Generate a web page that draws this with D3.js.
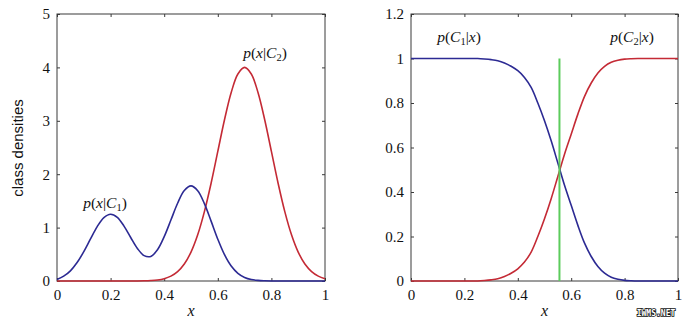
<!DOCTYPE html>
<html>
<head>
<meta charset="utf-8">
<script src="https://cdn.jsdelivr.net/npm/d3@7"></script>
<style>
  html, body { margin: 0; padding: 0; background: #fff; }
  svg { display: block; }
</style>
</head>
<body>
<svg id="chart" width="690" height="325"></svg>
<script>
// Sample positions along x
const xGrid = [0, 0.025, 0.05, 0.075, 0.1, 0.125, 0.15, 0.175, 0.2, 0.225,
  0.25, 0.275, 0.3, 0.325, 0.35, 0.375, 0.4, 0.425, 0.45, 0.475,
  0.5, 0.525, 0.55, 0.575, 0.6, 0.625, 0.65, 0.675, 0.7, 0.725,
  0.75, 0.775, 0.8, 0.825, 0.85, 0.875, 0.9, 0.925, 0.95, 0.975, 1];

// Class-conditional densities p(x|C1), p(x|C2)
const densityC1 = [0.03, 0.09, 0.19, 0.345, 0.550, 0.787, 1.018, 1.188, 1.251, 1.192,
  1.028, 0.815, 0.610, 0.475, 0.460, 0.585, 0.830, 1.141, 1.456, 1.694,
  1.781, 1.691, 1.449, 1.121, 0.783, 0.493, 0.280, 0.144, 0.067, 0.028,
  0.011, 0.004, 0.001, 0, 0, 0, 0, 0, 0, 0, 0];
const densityC2 = [0, 0, 0, 0, 0, 0, 0, 0, 0, 0,
  0, 0.0005, 0.001, 0.0035, 0.009, 0.020, 0.044, 0.091, 0.176, 0.318,
  0.541, 0.865, 1.299, 1.831, 2.426, 3.019, 3.530, 3.877, 4.0, 3.877,
  3.530, 3.019, 2.426, 1.831, 1.299, 0.865, 0.541, 0.318, 0.176, 0.091, 0.044];

// Posterior probabilities p(C1|x), p(C2|x)
const posteriorC1 = [1, 1, 1, 1, 1, 1, 1, 1, 1, 1,
  1, 0.998, 0.995, 0.99, 0.98, 0.965, 0.945, 0.915, 0.87, 0.80,
  0.72, 0.63, 0.53, 0.43, 0.34, 0.25, 0.17, 0.11, 0.065, 0.035,
  0.017, 0.008, 0.003, 0.001, 0, 0, 0, 0, 0, 0, 0];
const posteriorC2 = [0, 0, 0, 0, 0, 0, 0, 0, 0, 0,
  0, 0.002, 0.005, 0.01, 0.02, 0.035, 0.055, 0.085, 0.13, 0.20,
  0.28, 0.37, 0.47, 0.57, 0.66, 0.75, 0.83, 0.89, 0.935, 0.965,
  0.983, 0.992, 0.997, 0.999, 1, 1, 1, 1, 1, 1, 1];

// Decision boundary where the posteriors cross
const boundaryX = 0.556;

const xTicks = [0, 0.2, 0.4, 0.6, 0.8, 1];
const xTickLabels = ["0", "0.2", "0.4", "0.6", "0.8", "1"];
const leftYTicks = [0, 1, 2, 3, 4, 5];
const leftYTickLabels = ["0", "1", "2", "3", "4", "5"];
const rightYTicks = [0, 0.2, 0.4, 0.6, 0.8, 1, 1.2];
const rightYTickLabels = ["0", "0.2", "0.4", "0.6", "0.8", "1", "1.2"];

const BLUE = "#2c2a93";
const RED = "#c42a35";
const GREEN = "#5ccc5c";
const FRAME = "#3a3a3a";
const SERIF = "'Liberation Serif', 'Times New Roman', 'DejaVu Serif', serif";

const svg = d3.select("#chart");

function panel(opts) {
  const { left, right, top, bottom, yMax, yTicks, yLabels } = opts;
  const x = d3.scaleLinear().domain([0, 1]).range([left, right]);
  const y = d3.scaleLinear().domain([0, yMax]).range([bottom, top]);
  const g = svg.append("g");

  // inward ticks on all four sides, labels on bottom and left
  const axB = d3.axisBottom(x).tickValues(xTicks).tickSizeInner(-3).tickSizeOuter(0)
    .tickPadding(7).tickFormat((d, i) => xTickLabels[i]);
  const axT = d3.axisTop(x).tickValues(xTicks).tickSizeInner(-3).tickSizeOuter(0).tickFormat("");
  const axL = d3.axisLeft(y).tickValues(yTicks).tickSizeInner(-3).tickSizeOuter(0)
    .tickPadding(7).tickFormat((d, i) => yLabels[i]);
  const axR = d3.axisRight(y).tickValues(yTicks).tickSizeInner(-3).tickSizeOuter(0).tickFormat("");

  const gb = g.append("g").attr("transform", `translate(0,${bottom})`).call(axB);
  const gt = g.append("g").attr("transform", `translate(0,${top})`).call(axT);
  const gl = g.append("g").attr("transform", `translate(${left},0)`).call(axL);
  const gr = g.append("g").attr("transform", `translate(${right},0)`).call(axR);
  [gb, gt, gl, gr].forEach(a => {
    a.attr("font-family", SERIF).attr("font-size", 15);
    a.select(".domain").remove();
    a.selectAll(".tick line").attr("stroke", FRAME);
    a.selectAll(".tick text").attr("fill", "#111");
  });
  gb.selectAll(".tick text").attr("dy", "0.8em");
  gl.selectAll(".tick text").attr("dy", "0.33em");

  g.append("rect")
    .attr("x", left).attr("y", top)
    .attr("width", right - left).attr("height", bottom - top)
    .attr("fill", "none").attr("stroke", FRAME).attr("stroke-width", 1);

  // x axis label
  g.append("text")
    .attr("x", (left + right) / 2).attr("y", 316)
    .attr("text-anchor", "middle")
    .attr("font-family", SERIF).attr("font-style", "italic").attr("font-size", 16)
    .attr("fill", "#111")
    .text("x");

  return { g, x, y };
}

function curve(p, values, color) {
  const line = d3.line()
    .x((d, i) => p.x(xGrid[i]))
    .y(d => p.y(d))
    .curve(d3.curveCatmullRom.alpha(0.5));
  p.g.append("path")
    .datum(values)
    .attr("d", line)
    .attr("fill", "none")
    .attr("stroke", color)
    .attr("stroke-width", 1.6);
}

// math label like p(x|C1) built from tspans
function mathLabel(g, cx, baseline, parts) {
  const t = g.append("text")
    .attr("x", cx).attr("y", baseline).attr("text-anchor", "middle")
    .attr("font-family", SERIF).attr("font-size", 15.5).attr("fill", "#111");
  parts.forEach(pt => {
    const s = t.append("tspan").text(pt.t);
    if (pt.i) s.attr("font-style", "italic");
    if (pt.sub) s.attr("font-size", 10.5).attr("dy", 3);
    if (pt.up) s.attr("dy", -3);
  });
}

// Left: class-conditional densities
const L = panel({ left: 57, right: 325, top: 14, bottom: 281, yMax: 5,
  yTicks: leftYTicks, yLabels: leftYTickLabels });
curve(L, densityC2, RED);
curve(L, densityC1, BLUE);

L.g.append("text")
  .attr("transform", "translate(23,148) rotate(-90)")
  .attr("text-anchor", "middle")
  .attr("font-family", "'Liberation Sans', Arial, sans-serif")
  .attr("font-size", 15)
  .attr("fill", "#111")
  .text("class densities");

mathLabel(L.g, 105, 208, [
  { t: "p", i: true }, { t: "(" }, { t: "x", i: true }, { t: "|" },
  { t: "C", i: true }, { t: "1", sub: true }, { t: ")", up: true }
]);
mathLabel(L.g, 265, 58, [
  { t: "p", i: true }, { t: "(" }, { t: "x", i: true }, { t: "|" },
  { t: "C", i: true }, { t: "2", sub: true }, { t: ")", up: true }
]);

// Right: posterior probabilities with the decision boundary
const R = panel({ left: 411, right: 678, top: 14, bottom: 281, yMax: 1.2,
  yTicks: rightYTicks, yLabels: rightYTickLabels });
curve(R, posteriorC2, RED);
curve(R, posteriorC1, BLUE);

R.g.append("line")
  .attr("x1", R.x(boundaryX)).attr("x2", R.x(boundaryX))
  .attr("y1", R.y(1)).attr("y2", R.y(0))
  .attr("stroke", GREEN).attr("stroke-width", 2);

mathLabel(R.g, 459, 42, [
  { t: "p", i: true }, { t: "(" }, { t: "C", i: true }, { t: "1", sub: true },
  { t: "|", up: true }, { t: "x", i: true }, { t: ")" }
]);
mathLabel(R.g, 632, 42, [
  { t: "p", i: true }, { t: "(" }, { t: "C", i: true }, { t: "2", sub: true },
  { t: "|", up: true }, { t: "x", i: true }, { t: ")" }
]);

// site mark, bottom right
svg.append("text")
  .attr("x", 656).attr("y", 316)
  .attr("text-anchor", "middle")
  .attr("font-family", "'DejaVu Sans Mono', monospace")
  .attr("font-weight", "bold")
  .attr("font-size", 8)
  .attr("fill", "#fff")
  .attr("stroke", "#111")
  .attr("stroke-width", 1.6)
  .attr("paint-order", "stroke")
  .text("IWMS.NET");
</script>
</body>
</html>
